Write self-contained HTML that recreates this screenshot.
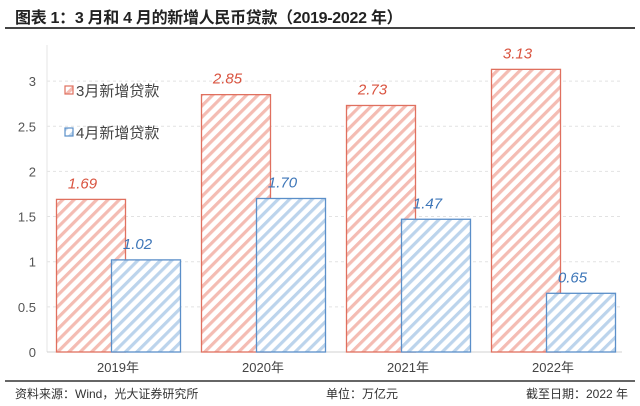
<!DOCTYPE html>
<html><head><meta charset="utf-8">
<style>
body{margin:0;background:#fff;width:640px;height:406px;overflow:hidden;font-family:"Liberation Sans","Noto Sans CJK SC",sans-serif;}
#title{position:absolute;left:15px;top:4px;font-size:16px;font-weight:bold;color:#222;letter-spacing:-0.3px;}
#tline{position:absolute;left:5px;top:27px;width:630px;height:2px;background:#444;}
#fline{position:absolute;left:5px;top:380px;width:630px;height:2px;background:#666;}
.foot{position:absolute;top:385px;font-size:12px;color:#333;}
svg{position:absolute;left:0;top:0;}
</style></head><body>
<div id="title">图表 1：3 月和 4 月的新增人民币贷款（2019-2022 年）</div>
<div id="tline"></div>
<svg id="chart" width="640" height="406">
<defs>
<pattern id="hr" width="8" height="8" patternUnits="userSpaceOnUse" patternTransform="rotate(45)"><rect width="8" height="8" fill="#fff"/><rect width="3.2" height="8" fill="#f4bcb3"/></pattern>
<pattern id="hb" width="8" height="8" patternUnits="userSpaceOnUse" patternTransform="rotate(45)"><rect width="8" height="8" fill="#fff"/><rect width="3.2" height="8" fill="#bcd4ec"/></pattern>
</defs>
</svg>
<div id="fline"></div>
<div class="foot" style="left:15px">资料来源：Wind，光大证券研究所</div>
<div class="foot" style="left:326px">单位：万亿元</div>
<div class="foot" style="left:526px">截至日期：2022 年</div>
<script>
const categories=["2019年","2020年","2021年","2022年"];
const marchVals=[1.69,2.85,2.73,3.13];
const aprilVals=[1.02,1.70,1.47,0.65];
const yTicks=[0,0.5,1,1.5,2,2.5,3];
const yTickLabels=["0","0.5","1","1.5","2","2.5","3"];
const NS="http://www.w3.org/2000/svg";
const svg=document.getElementById('chart');
const y0=352,unit=90.3,x0=47,groupW=145;
const y=v=>y0-v*unit;
const gx=i=>x0+9+i*groupW;
function mk(t,a,txt){const e=document.createElementNS(NS,t);for(const k in a)e.setAttribute(k,a[k]);if(txt!==undefined)e.textContent=txt;svg.appendChild(e);return e;}
yTicks.forEach((t,i)=>{
 if(t>0){const g=mk('line',{x1:x0,x2:622,y1:y(t),y2:y(t),stroke:'#e2e2e2','stroke-dasharray':'3,3'});
 
 }
 const l=mk('text',{x:36,y:y(t)+5,'font-size':13,fill:'#555','text-anchor':'end'},yTickLabels[i]);
 
 
});
const ax=mk('line',{x1:x0,x2:x0,y1:45,y2:y0,stroke:'#e6e6e6'});


const bx=mk('line',{x1:x0,x2:622,y1:y0,y2:y0,stroke:'#d0d0d0'});


categories.forEach((c,i)=>{
 const xr=gx(i),xb=gx(i)+55,w=69;
 const r=mk('rect',{x:xr+0.5,y:y(marchVals[i]),width:w,height:y0-y(marchVals[i]),fill:'url(#hr)',stroke:'#e0705f','stroke-width':1.3});
 
 
 const b=mk('rect',{x:xb+0.5,y:y(aprilVals[i]),width:w,height:y0-y(aprilVals[i]),fill:'url(#hb)',stroke:'#5b8fc9','stroke-width':1.3});
 
 
 const rl=mk('text',{x:xr+w/2-8,y:y(marchVals[i])-11,'font-size':15,'font-style':'italic',fill:'#d9533f','text-anchor':'middle'},marchVals[i].toFixed(2));
 
 
 const bl=mk('text',{x:xb+w/2-8,y:y(aprilVals[i])-11,'font-size':15,'font-style':'italic',fill:'#3d76b8','text-anchor':'middle'},aprilVals[i].toFixed(2));
 
 
 const xl=mk('text',{x:gx(i)+62,y:372,'font-size':13,fill:'#444','text-anchor':'middle'},c);
 
 
});
[["3月新增贷款","url(#hr)","#e0705f",91],["4月新增贷款","url(#hb)","#5b8fc9",133]].forEach(([t,f,s,yy])=>{
 const sw=mk('rect',{x:65,y:yy-5,width:8,height:8,fill:f,stroke:s,'stroke-width':1.2});
 
 
 const lt=mk('text',{x:76,y:yy+5,'font-size':15,fill:'#444'},t);
 
 
});
</script>
</body></html>
